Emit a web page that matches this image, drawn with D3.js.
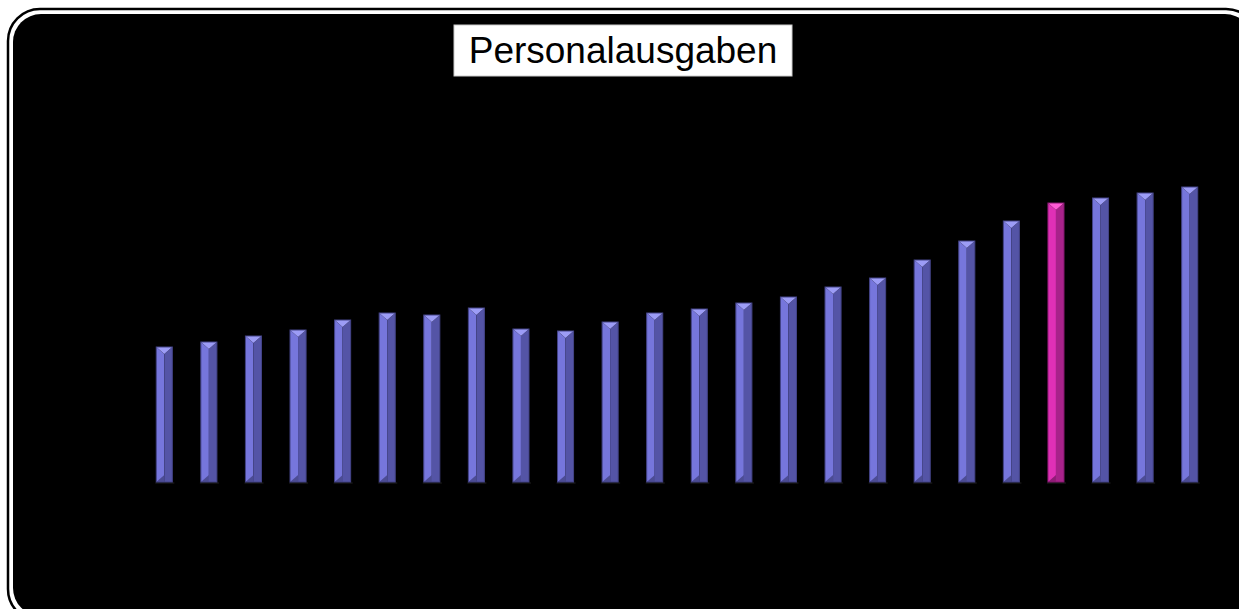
<!DOCTYPE html>
<html>
<head>
<meta charset="utf-8">
<script src="https://cdn.jsdelivr.net/npm/d3@7"></script>
<style>
  body { margin: 0; background: #fff; }
  svg { display: block; }
</style>
</head>
<body>
<div id="chart"></div>
<script>
// Personalausgaben, 24 Jahre (Werte aus dem Bild geschaetzt)
const years = d3.range(1, 25).map(d => "J" + d);
const values = [135, 140, 146, 152, 162, 169, 167, 174, 153, 151, 160, 169,
                173, 179, 185, 195, 204, 222, 241, 261, 279, 284, 289, 295];
const highlightIndex = 20;
const title = "Personalausgaben";

const W = 1239, H = 609;

const svg = d3.select("#chart").append("svg")
    .attr("width", W)
    .attr("height", H);

// frame: thin black outline, white ring, black panel
svg.append("rect")
    .attr("x", 8).attr("y", 9)
    .attr("width", 1250).attr("height", 612)
    .attr("rx", 32).attr("ry", 32)
    .attr("fill", "#fff")
    .attr("stroke", "#000")
    .attr("stroke-width", 2.5);
svg.append("rect")
    .attr("x", 13).attr("y", 14)
    .attr("width", 1240).attr("height", 602)
    .attr("rx", 28).attr("ry", 28)
    .attr("fill", "#000");

const x = d3.scaleBand()
    .domain(years)
    .range([142, 1212])
    .paddingInner(0.64)
    .paddingOuter(0.32);

const y = d3.scaleLinear()
    .domain([0, 300])
    .range([482, 182]);

const colors = {
  normal: {left: "#7676dc", right: "#5454a6", top: "#9c9cf6", bottom: "#4c4c94", edge: "#444488"},
  high:   {left: "#e030b6", right: "#a8228a", top: "#ff5ad4", bottom: "#901c76", edge: "#861870"}
};
const bev = 7;

const bars = svg.append("g").selectAll("g")
    .data(values.map((v, i) => ({year: years[i], value: v, i})))
  .enter().append("g");

function pts(arr) { return arr.map(p => p.join(",")).join(" "); }

bars.each(function(d) {
  const g = d3.select(this);
  const c = d.i === highlightIndex ? colors.high : colors.normal;
  const x0 = x(d.year), x1 = x0 + x.bandwidth(), xm = (x0 + x1) / 2;
  const y0 = y(d.value), yb = y(0);
  // shadow
  g.append("rect")
      .attr("x", x0 - 1).attr("y", yb)
      .attr("width", x.bandwidth() + 3).attr("height", 2)
      .attr("fill", "#111");
  g.append("polygon")
      .attr("points", pts([[x0, y0], [xm, y0 + bev], [xm, yb], [x0, yb]]))
      .attr("fill", c.left);
  g.append("polygon")
      .attr("points", pts([[xm, y0 + bev], [x1, y0], [x1, yb], [xm, yb]]))
      .attr("fill", c.right);
  g.append("polygon")
      .attr("points", pts([[x0, y0], [x1, y0], [xm, y0 + bev]]))
      .attr("fill", c.top);
  g.append("polygon")
      .attr("points", pts([[x0, yb], [xm, yb - bev], [xm, yb]]))
      .attr("fill", c.bottom);
  g.append("rect")
      .attr("x", x0).attr("y", y0)
      .attr("width", x.bandwidth()).attr("height", yb - y0)
      .attr("fill", "none")
      .attr("stroke", c.edge)
      .attr("stroke-width", 1);
  g.append("title").text(`${d.year}: ${d.value}`);
});

// title box
const tg = svg.append("g");
tg.append("rect")
    .attr("x", 454).attr("y", 25)
    .attr("width", 338).attr("height", 51)
    .attr("fill", "#fff")
    .attr("stroke", "#ccc")
    .attr("stroke-width", 1);
tg.append("text")
    .attr("x", 623).attr("y", 63)
    .attr("text-anchor", "middle")
    .attr("font-family", "'Liberation Sans', Arial, Helvetica, sans-serif")
    .attr("font-size", 37)
    .attr("fill", "#000")
    .text(title);
</script>
</body>
</html>
